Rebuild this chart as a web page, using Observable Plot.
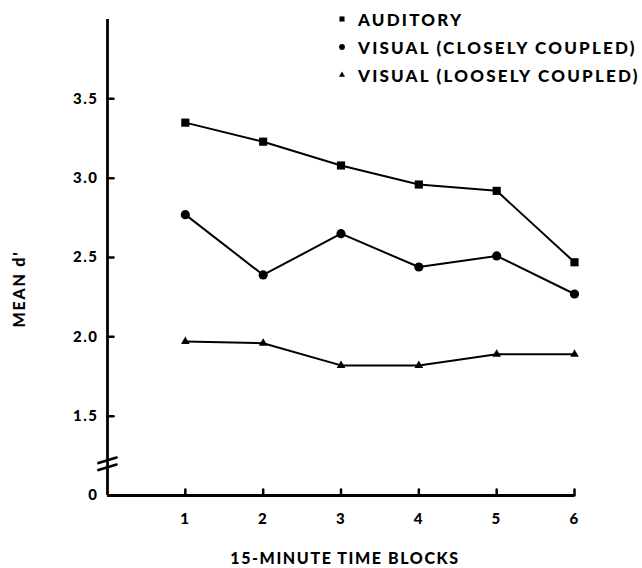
<!DOCTYPE html>
<html>
<head>
<meta charset="utf-8">
<script src="https://cdn.jsdelivr.net/npm/d3@7"></script>
<script src="https://cdn.jsdelivr.net/npm/@observablehq/plot@0.6"></script>
<style>
  body { margin: 0; background: #fff; }
  #wrap { position: relative; width: 642px; height: 568px; font-family: Lato, "DejaVu Sans", sans-serif; font-weight: 900; color: #000; }
  #wrap svg.plot { position: absolute; left: 0; top: 0; }
  .legend { position: absolute; left: 334px; top: 5px; }
  .legend .row { height: 28px; display: flex; align-items: center; font-size: 17px; letter-spacing: 2.2px; white-space: nowrap; }
  .legend .row svg { width: 16px; height: 16px; margin-right: 8px; }
  .ylab { position: absolute; left: 18px; top: 289px; transform: translate(-50%, -50%) rotate(-90deg); font-size: 16px; letter-spacing: 1.8px; white-space: nowrap; }
  .xlab { position: absolute; left: 345px; top: 557px; transform: translate(-50%, -50%); font-size: 16px; letter-spacing: 1.6px; white-space: nowrap; }
</style>
</head>
<body>
<div id="wrap"></div>
<script>
// ---- data ----
const blocks = [1, 2, 3, 4, 5, 6];
const seriesNames = ["AUDITORY", "VISUAL (CLOSELY COUPLED)", "VISUAL (LOOSELY COUPLED)"];
const seriesSymbols = ["square", "circle", "triangle"];
const auditory = [3.35, 3.23, 3.08, 2.96, 2.92, 2.47];
const visualClose = [2.77, 2.39, 2.65, 2.44, 2.51, 2.27];
const visualLoose = [1.97, 1.96, 1.82, 1.82, 1.89, 1.89];
// y axis is broken: the "0" baseline sits one half-unit below 1.5
const yTickValues = [1.0, 1.5, 2.0, 2.5, 3.0, 3.5];
const yTickLabels = ["0", "1.5", "2.0", "2.5", "3.0", "3.5"];
const yBreakAt = [1.2];
const xTickValues = [1, 2, 3, 4, 5, 6];
const xLabel = "15-MINUTE TIME BLOCKS";
const yLabel = "MEAN d'";

const seriesValues = [auditory, visualClose, visualLoose];
const rows = [];
seriesNames.forEach((name, s) => blocks.forEach((b, i) => rows.push({series: name, symbol: seriesSymbols[s], block: b, value: seriesValues[s][i]})));

const tickLabel = new Map(yTickValues.map((v, i) => [v, yTickLabels[i]]));
const lineShape = {draw(ctx, l) { ctx.moveTo(0, 0); ctx.lineTo(0, -l); }};

const chart = Plot.plot({
  width: 642,
  height: 568,
  marginLeft: 107,
  marginRight: 68,
  marginTop: 19,
  marginBottom: 73,
  style: {fontFamily: "Lato, 'DejaVu Sans', sans-serif", fontWeight: 900, fontSize: "15px", color: "#000", letterSpacing: "1.5px", background: "#fff"},
  x: {domain: [0, 6], label: null},
  y: {domain: [1, 4], label: null},
  symbol: {domain: seriesNames, range: seriesSymbols},
  marks: [
    Plot.axisY({ticks: yTickValues, tickFormat: d => tickLabel.get(d), tickSize: 0, tickPadding: 9, fontWeight: 900, fontSize: 15, label: null}),
    Plot.axisX({ticks: xTickValues, tickFormat: d => String(d), tickSize: 0, tickPadding: 18, fontWeight: 900, fontSize: 15, label: null}),
    // inward tick marks
    Plot.vector(yTickValues.filter(v => v > 1), {x: () => 0, y: d => d, length: 6, rotate: 90, anchor: "start", shape: lineShape, stroke: "#000", strokeWidth: 2.5}),
    Plot.vector(xTickValues, {x: d => d, y: () => 1, length: 6, rotate: 0, anchor: "start", shape: lineShape, stroke: "#000", strokeWidth: 2.5}),
    Plot.ruleX([0], {stroke: "#000", strokeWidth: 2.8}),
    Plot.ruleY([1], {stroke: "#000", strokeWidth: 2.8}),
    Plot.vector(yBreakAt, {x: () => 0, y: d => d, dy: -3.5, length: 19, rotate: 73, anchor: "middle", shape: lineShape, stroke: "#000", strokeWidth: 2.6}),
    Plot.vector(yBreakAt, {x: () => 0, y: d => d, dy: 3.5, length: 19, rotate: 73, anchor: "middle", shape: lineShape, stroke: "#000", strokeWidth: 2.6}),
    Plot.line(rows, {x: "block", y: "value", z: "series", stroke: "#000", strokeWidth: 2}),
    Plot.dot(rows.filter(d => d.symbol === "square"), {x: "block", y: "value", symbol: "series", r: 4.6, fill: "#000", stroke: "none"}),
    Plot.dot(rows.filter(d => d.symbol === "circle"), {x: "block", y: "value", symbol: "series", r: 4.6, fill: "#000", stroke: "none"}),
    Plot.dot(rows.filter(d => d.symbol === "triangle"), {x: "block", y: "value", symbol: "series", r: 3.2, fill: "#000", stroke: "none"})
  ]
});
chart.classList.add("plot");
const wrap = document.getElementById("wrap");
wrap.appendChild(chart);

// legend
const legend = document.createElement("div");
legend.className = "legend";
const legendSizes = {square: 26, circle: 26, triangle: 16};
seriesNames.forEach((name, i) => {
  const row = document.createElement("div");
  row.className = "row";
  const sym = d3.create("svg").attr("viewBox", "-8 -8 16 16");
  const shape = {square: d3.symbolSquare, circle: d3.symbolCircle, triangle: d3.symbolTriangle}[seriesSymbols[i]];
  sym.append("path").attr("d", d3.symbol(shape, legendSizes[seriesSymbols[i]])()).attr("fill", "#000");
  row.appendChild(sym.node());
  const t = document.createElement("span");
  t.textContent = name;
  row.appendChild(t);
  legend.appendChild(row);
});
wrap.appendChild(legend);

const yl = document.createElement("div");
yl.className = "ylab";
yl.textContent = yLabel;
wrap.appendChild(yl);
const xl = document.createElement("div");
xl.className = "xlab";
xl.textContent = xLabel;
wrap.appendChild(xl);
</script>
</body>
</html>
